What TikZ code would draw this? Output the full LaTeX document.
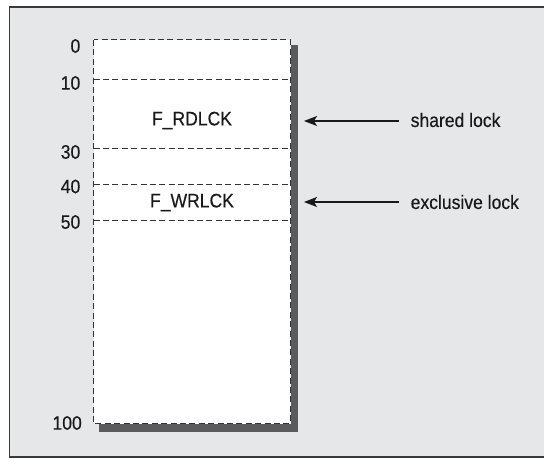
\documentclass[tikz,border=0pt]{standalone}
\usepackage{fontspec}
\setmainfont{Liberation Sans}[FakeStretch=0.9,FakeBold=0.3]
\usetikzlibrary{arrows.meta}
\definecolor{bg}{HTML}{E6E7E8}
\definecolor{shadowc}{HTML}{5B5B5D}
\definecolor{framec}{HTML}{3A3A3A}
\begin{document}
\begin{tikzpicture}[x=1bp,y=-1bp,
  txt/.style={font=\fontsize{19.5bp}{22bp}\selectfont, text=black!90, inner sep=0pt},
  num/.style={txt, anchor=east},
  dline/.style={draw=black!80, line width=1bp, dash pattern=on 6bp off 3.4bp},
  ptr/.style={draw=black!90, line width=1.3bp, -{Stealth[length=13bp,width=10bp,inset=3bp]}}]
\useasboundingbox (0,0) rectangle (544,459);
% outer frame
\fill[bg] (9.5,7) rectangle (546,457);
\draw[framec, line width=1.4bp] (546,7) -- (9.5,7) -- (9.5,457) -- (546,457);
% shadow
\fill[shadowc] (98.5,45) rectangle (297.5,431.5);
% box
\coordinate (tl) at (93.5,40);
\coordinate (br) at (290.5,423.5);
\fill[white] (tl) rectangle (br);
\draw[dline] (tl) rectangle (br);
% separators
\foreach \n/\y in {10/80,30/149,40/184.5,50/221}{
  \coordinate (l\n) at (93.5,\y);
  \coordinate (r\n) at (290.5,\y);
  \draw[dline] (l\n) -- (r\n);
}
% numbers
\node[num] (n0)   at (80.5,46) {0};
\node[num] (n10)  at (80.5,83) {10};
\node[num] (n30)  at (80.5,152) {30};
\node[num] (n40)  at (80.5,186.5) {40};
\node[num] (n50)  at (80.5,222) {50};
\node[num] (n100) at (82,423) {100};
% region labels
\node[txt] (rd) at (192,120.5) {F\_RDLCK};
\node[txt] (wr) at (192,202.5) {F\_WRLCK};
% side labels
\node[txt, anchor=west] (sh) at (410.5,120) {shared lock};
\node[txt, anchor=west] (ex) at (410.5,202) {exclusive lock};
\coordinate (s1) at (398.5,121);
\coordinate (s2) at (398.5,202);
\coordinate (t1) at (304,121);
\coordinate (t2) at (304,202);
\draw[ptr] (s1) -- (t1);
\draw[ptr] (s2) -- (t2);
\end{tikzpicture}
\end{document}
